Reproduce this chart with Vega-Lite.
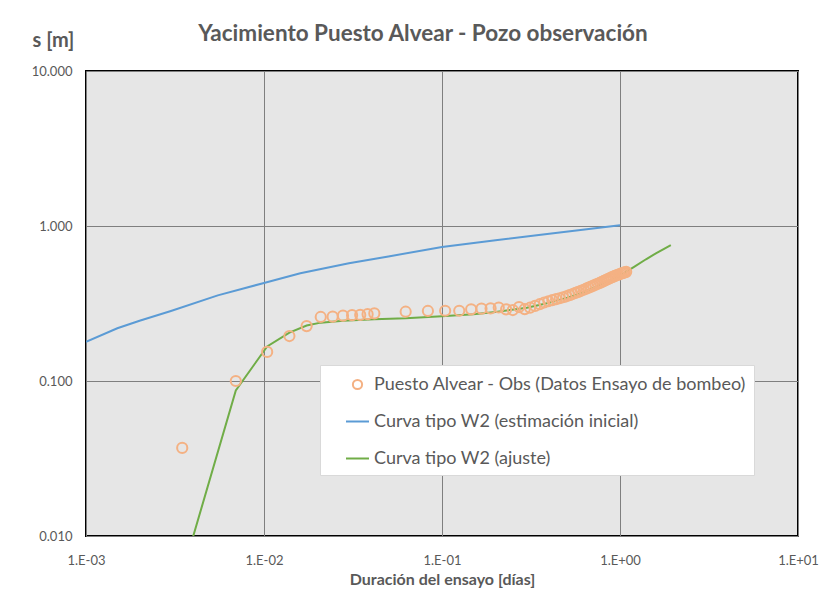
{
  "$schema": "https://vega.github.io/schema/vega-lite/v6.json",
  "width": 712,
  "height": 465,
  "autosize": {"type": "none"},
  "padding": {"left": 86, "top": 71, "right": 33, "bottom": 74},
  "background": "white",
  "title": {
    "text": "Yacimiento Puesto Alvear - Pozo observación",
    "font": "Lato",
    "fontSize": 22.5,
    "fontWeight": "bold",
    "color": "#595959",
    "anchor": "middle",
    "dx": -19,
    "offset": 0,
    "dy": 15
  },
  "config": {
    "font": "Lato",
    "view": {"fill": "#e6e6e6", "stroke": "#000000", "strokeWidth": 2},
    "axis": {
      "domain": false,
      "ticks": false,
      "tickSize": 0,
      "grid": true,
      "gridColor": "#7f7f7f",
      "gridWidth": 1,
      "labelColor": "#595959",
      "labelFontSize": 13,
      "labelFont": "Lato",
      "titleColor": "#595959",
      "titleFont": "Lato"
    }
  },
  "data": {
    "values": [
      {"serie": "Curva tipo W2 (estimación inicial)", "t": 0.001, "s": 0.179},
      {"serie": "Curva tipo W2 (estimación inicial)", "t": 0.0015, "s": 0.219},
      {"serie": "Curva tipo W2 (estimación inicial)", "t": 0.002, "s": 0.245},
      {"serie": "Curva tipo W2 (estimación inicial)", "t": 0.003, "s": 0.283},
      {"serie": "Curva tipo W2 (estimación inicial)", "t": 0.0055, "s": 0.357},
      {"serie": "Curva tipo W2 (estimación inicial)", "t": 0.01, "s": 0.429},
      {"serie": "Curva tipo W2 (estimación inicial)", "t": 0.016, "s": 0.495},
      {"serie": "Curva tipo W2 (estimación inicial)", "t": 0.03, "s": 0.575},
      {"serie": "Curva tipo W2 (estimación inicial)", "t": 0.05, "s": 0.636},
      {"serie": "Curva tipo W2 (estimación inicial)", "t": 0.1, "s": 0.733},
      {"serie": "Curva tipo W2 (estimación inicial)", "t": 0.2, "s": 0.808},
      {"serie": "Curva tipo W2 (estimación inicial)", "t": 0.35, "s": 0.875},
      {"serie": "Curva tipo W2 (estimación inicial)", "t": 0.6, "s": 0.942},
      {"serie": "Curva tipo W2 (estimación inicial)", "t": 1.0, "s": 1.01},
      {"serie": "Curva tipo W2 (ajuste)", "t": 0.003472, "s": 0.0057},
      {"serie": "Curva tipo W2 (ajuste)", "t": 0.006944, "s": 0.087},
      {"serie": "Curva tipo W2 (ajuste)", "t": 0.010417, "s": 0.167},
      {"serie": "Curva tipo W2 (ajuste)", "t": 0.013889, "s": 0.205},
      {"serie": "Curva tipo W2 (ajuste)", "t": 0.017361, "s": 0.228},
      {"serie": "Curva tipo W2 (ajuste)", "t": 0.020833, "s": 0.238},
      {"serie": "Curva tipo W2 (ajuste)", "t": 0.027778, "s": 0.245},
      {"serie": "Curva tipo W2 (ajuste)", "t": 0.041667, "s": 0.25},
      {"serie": "Curva tipo W2 (ajuste)", "t": 0.0625, "s": 0.254},
      {"serie": "Curva tipo W2 (ajuste)", "t": 0.1, "s": 0.262},
      {"serie": "Curva tipo W2 (ajuste)", "t": 0.15, "s": 0.27},
      {"serie": "Curva tipo W2 (ajuste)", "t": 0.2, "s": 0.279},
      {"serie": "Curva tipo W2 (ajuste)", "t": 0.3, "s": 0.297},
      {"serie": "Curva tipo W2 (ajuste)", "t": 0.4, "s": 0.32},
      {"serie": "Curva tipo W2 (ajuste)", "t": 0.5, "s": 0.343},
      {"serie": "Curva tipo W2 (ajuste)", "t": 0.6, "s": 0.368},
      {"serie": "Curva tipo W2 (ajuste)", "t": 0.7, "s": 0.395},
      {"serie": "Curva tipo W2 (ajuste)", "t": 0.8, "s": 0.423},
      {"serie": "Curva tipo W2 (ajuste)", "t": 0.9, "s": 0.45},
      {"serie": "Curva tipo W2 (ajuste)", "t": 1.0, "s": 0.478},
      {"serie": "Curva tipo W2 (ajuste)", "t": 1.2, "s": 0.545},
      {"serie": "Curva tipo W2 (ajuste)", "t": 1.4, "s": 0.61},
      {"serie": "Curva tipo W2 (ajuste)", "t": 1.6, "s": 0.669},
      {"serie": "Curva tipo W2 (ajuste)", "t": 1.8, "s": 0.721},
      {"serie": "Curva tipo W2 (ajuste)", "t": 1.93, "s": 0.753},
      {"serie": "Puesto Alvear - Obs (Datos Ensayo de bombeo)", "t": 0.003472, "s": 0.037},
      {"serie": "Puesto Alvear - Obs (Datos Ensayo de bombeo)", "t": 0.006944, "s": 0.1},
      {"serie": "Puesto Alvear - Obs (Datos Ensayo de bombeo)", "t": 0.010417, "s": 0.154},
      {"serie": "Puesto Alvear - Obs (Datos Ensayo de bombeo)", "t": 0.013889, "s": 0.195},
      {"serie": "Puesto Alvear - Obs (Datos Ensayo de bombeo)", "t": 0.017361, "s": 0.226},
      {"serie": "Puesto Alvear - Obs (Datos Ensayo de bombeo)", "t": 0.020833, "s": 0.259},
      {"serie": "Puesto Alvear - Obs (Datos Ensayo de bombeo)", "t": 0.024306, "s": 0.26},
      {"serie": "Puesto Alvear - Obs (Datos Ensayo de bombeo)", "t": 0.027778, "s": 0.264},
      {"serie": "Puesto Alvear - Obs (Datos Ensayo de bombeo)", "t": 0.03125, "s": 0.266},
      {"serie": "Puesto Alvear - Obs (Datos Ensayo de bombeo)", "t": 0.034722, "s": 0.267},
      {"serie": "Puesto Alvear - Obs (Datos Ensayo de bombeo)", "t": 0.038194, "s": 0.27},
      {"serie": "Puesto Alvear - Obs (Datos Ensayo de bombeo)", "t": 0.041667, "s": 0.273},
      {"serie": "Puesto Alvear - Obs (Datos Ensayo de bombeo)", "t": 0.0625, "s": 0.28},
      {"serie": "Puesto Alvear - Obs (Datos Ensayo de bombeo)", "t": 0.083333, "s": 0.283},
      {"serie": "Puesto Alvear - Obs (Datos Ensayo de bombeo)", "t": 0.104167, "s": 0.284},
      {"serie": "Puesto Alvear - Obs (Datos Ensayo de bombeo)", "t": 0.125, "s": 0.284},
      {"serie": "Puesto Alvear - Obs (Datos Ensayo de bombeo)", "t": 0.145833, "s": 0.29},
      {"serie": "Puesto Alvear - Obs (Datos Ensayo de bombeo)", "t": 0.166667, "s": 0.293},
      {"serie": "Puesto Alvear - Obs (Datos Ensayo de bombeo)", "t": 0.1875, "s": 0.294},
      {"serie": "Puesto Alvear - Obs (Datos Ensayo de bombeo)", "t": 0.208333, "s": 0.298},
      {"serie": "Puesto Alvear - Obs (Datos Ensayo de bombeo)", "t": 0.229167, "s": 0.29},
      {"serie": "Puesto Alvear - Obs (Datos Ensayo de bombeo)", "t": 0.25, "s": 0.287},
      {"serie": "Puesto Alvear - Obs (Datos Ensayo de bombeo)", "t": 0.270833, "s": 0.3},
      {"serie": "Puesto Alvear - Obs (Datos Ensayo de bombeo)", "t": 0.291667, "s": 0.291},
      {"serie": "Puesto Alvear - Obs (Datos Ensayo de bombeo)", "t": 0.3125, "s": 0.297},
      {"serie": "Puesto Alvear - Obs (Datos Ensayo de bombeo)", "t": 0.333333, "s": 0.305},
      {"serie": "Puesto Alvear - Obs (Datos Ensayo de bombeo)", "t": 0.354167, "s": 0.313},
      {"serie": "Puesto Alvear - Obs (Datos Ensayo de bombeo)", "t": 0.375, "s": 0.321},
      {"serie": "Puesto Alvear - Obs (Datos Ensayo de bombeo)", "t": 0.395833, "s": 0.327},
      {"serie": "Puesto Alvear - Obs (Datos Ensayo de bombeo)", "t": 0.416667, "s": 0.332},
      {"serie": "Puesto Alvear - Obs (Datos Ensayo de bombeo)", "t": 0.4375, "s": 0.337},
      {"serie": "Puesto Alvear - Obs (Datos Ensayo de bombeo)", "t": 0.458333, "s": 0.342},
      {"serie": "Puesto Alvear - Obs (Datos Ensayo de bombeo)", "t": 0.479167, "s": 0.347},
      {"serie": "Puesto Alvear - Obs (Datos Ensayo de bombeo)", "t": 0.5, "s": 0.352},
      {"serie": "Puesto Alvear - Obs (Datos Ensayo de bombeo)", "t": 0.520833, "s": 0.358},
      {"serie": "Puesto Alvear - Obs (Datos Ensayo de bombeo)", "t": 0.541667, "s": 0.364},
      {"serie": "Puesto Alvear - Obs (Datos Ensayo de bombeo)", "t": 0.5625, "s": 0.37},
      {"serie": "Puesto Alvear - Obs (Datos Ensayo de bombeo)", "t": 0.583333, "s": 0.376},
      {"serie": "Puesto Alvear - Obs (Datos Ensayo de bombeo)", "t": 0.604167, "s": 0.382},
      {"serie": "Puesto Alvear - Obs (Datos Ensayo de bombeo)", "t": 0.625, "s": 0.388},
      {"serie": "Puesto Alvear - Obs (Datos Ensayo de bombeo)", "t": 0.645833, "s": 0.394},
      {"serie": "Puesto Alvear - Obs (Datos Ensayo de bombeo)", "t": 0.666667, "s": 0.4},
      {"serie": "Puesto Alvear - Obs (Datos Ensayo de bombeo)", "t": 0.6875, "s": 0.406},
      {"serie": "Puesto Alvear - Obs (Datos Ensayo de bombeo)", "t": 0.708333, "s": 0.412},
      {"serie": "Puesto Alvear - Obs (Datos Ensayo de bombeo)", "t": 0.729167, "s": 0.418},
      {"serie": "Puesto Alvear - Obs (Datos Ensayo de bombeo)", "t": 0.75, "s": 0.424},
      {"serie": "Puesto Alvear - Obs (Datos Ensayo de bombeo)", "t": 0.770833, "s": 0.43},
      {"serie": "Puesto Alvear - Obs (Datos Ensayo de bombeo)", "t": 0.791667, "s": 0.436},
      {"serie": "Puesto Alvear - Obs (Datos Ensayo de bombeo)", "t": 0.8125, "s": 0.442},
      {"serie": "Puesto Alvear - Obs (Datos Ensayo de bombeo)", "t": 0.833333, "s": 0.448},
      {"serie": "Puesto Alvear - Obs (Datos Ensayo de bombeo)", "t": 0.854167, "s": 0.454},
      {"serie": "Puesto Alvear - Obs (Datos Ensayo de bombeo)", "t": 0.875, "s": 0.46},
      {"serie": "Puesto Alvear - Obs (Datos Ensayo de bombeo)", "t": 0.895833, "s": 0.466},
      {"serie": "Puesto Alvear - Obs (Datos Ensayo de bombeo)", "t": 0.916667, "s": 0.471},
      {"serie": "Puesto Alvear - Obs (Datos Ensayo de bombeo)", "t": 0.9375, "s": 0.476},
      {"serie": "Puesto Alvear - Obs (Datos Ensayo de bombeo)", "t": 0.958333, "s": 0.481},
      {"serie": "Puesto Alvear - Obs (Datos Ensayo de bombeo)", "t": 0.979167, "s": 0.486},
      {"serie": "Puesto Alvear - Obs (Datos Ensayo de bombeo)", "t": 1.0, "s": 0.49},
      {"serie": "Puesto Alvear - Obs (Datos Ensayo de bombeo)", "t": 1.020833, "s": 0.494},
      {"serie": "Puesto Alvear - Obs (Datos Ensayo de bombeo)", "t": 1.041667, "s": 0.498},
      {"serie": "Puesto Alvear - Obs (Datos Ensayo de bombeo)", "t": 1.0625, "s": 0.502},
      {"serie": "Puesto Alvear - Obs (Datos Ensayo de bombeo)", "t": 1.083333, "s": 0.506}
    ]
  },
  "encoding": {
    "x": {
      "field": "t",
      "type": "quantitative",
      "scale": {"type": "log", "domain": [0.001, 10], "nice": false},
      "axis": {
        "values": [0.001, 0.01, 0.1, 1, 10],
        "labelExpr": "'1.E' + (datum.value >= 1 ? '+' : '-') + '0' + format(abs(round(log(datum.value) / LN10)), 'd')",
        "labelPadding": 24,
        "labelBaseline": "middle",
        "labelFlush": false,
        "labelOverlap": false,
        "title": "Duración del ensayo [días]",
        "titleFontSize": 16,
        "titleFontWeight": "bold",
        "titleY": 43,
        "titleBaseline": "middle"
      }
    },
    "y": {
      "field": "s",
      "type": "quantitative",
      "scale": {"type": "log", "domain": [0.01, 10], "nice": false},
      "axis": {
        "values": [0.01, 0.1, 1, 10],
        "format": ".3f",
        "labelPadding": 14,
        "labelFlush": false,
        "labelOverlap": false,
        "title": "s [m]",
        "titleAngle": 0,
        "titleAlign": "left",
        "titleBaseline": "middle",
        "titleX": -54,
        "titleY": -31,
        "titleFontSize": 20,
        "titleFontWeight": "bold"
      }
    },
    "color": {
      "field": "serie",
      "type": "nominal",
      "scale": {
        "domain": ["Puesto Alvear - Obs (Datos Ensayo de bombeo)", "Curva tipo W2 (estimación inicial)", "Curva tipo W2 (ajuste)"],
        "range": ["#F4B183", "#5B9BD5", "#70AD47"]
      },
      "legend": {
        "title": null,
        "orient": "none",
        "legendX": 234,
        "legendY": 294,
        "fillColor": "#ffffff",
        "strokeColor": "#d9d9d9",
        "padding": 7,
        "labelFontSize": 18,
        "labelColor": "#595959",
        "labelFont": "Lato",
        "labelLimit": 600,
        "labelExpr": "datum.label + '\u2003\u2003'",
        "rowPadding": 15,
        "labelOffset": 4,
        "symbolOffset": 18,
        "symbolSize": 529,
        "symbolStrokeWidth": 2
      }
    }
  },
  "layer": [
    {
      "transform": [{"filter": "datum.serie === 'Curva tipo W2 (estimación inicial)'"}],
      "mark": {"type": "line", "strokeWidth": 2, "clip": true}
    },
    {
      "transform": [{"filter": "datum.serie === 'Curva tipo W2 (ajuste)'"}],
      "mark": {"type": "line", "strokeWidth": 2, "clip": true}
    },
    {
      "transform": [{"filter": "datum.serie === 'Puesto Alvear - Obs (Datos Ensayo de bombeo)'"}],
      "mark": {"type": "point", "filled": false, "strokeWidth": 2, "size": 650, "clip": true, "opacity": 1},
      "encoding": {
        "shape": {
          "field": "serie",
          "type": "nominal",
          "scale": {
            "domain": ["Puesto Alvear - Obs (Datos Ensayo de bombeo)", "Curva tipo W2 (estimación inicial)", "Curva tipo W2 (ajuste)"],
            "range": ["M-0.4,0A0.4,0.4,0,1,0,0.4,0A0.4,0.4,0,1,0,-0.4,0Z", "M-1,0H1", "M-1,0H1"]
          },
          "legend": {
            "title": null,
            "orient": "none",
            "legendX": 234,
            "legendY": 294
          }
        }
      }
    }
  ]
}
